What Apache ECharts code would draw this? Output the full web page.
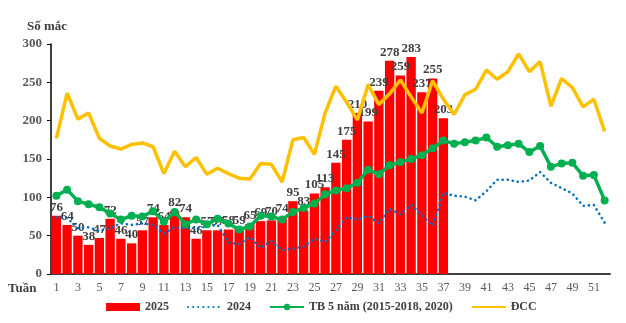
<!DOCTYPE html>
<html><head><meta charset="utf-8">
<script src="https://cdn.jsdelivr.net/npm/echarts@6/dist/echarts.min.js"></script>
<style>html,body{margin:0;padding:0;background:#fff}#c{width:626px;height:323px}</style>
</head><body><div id="c"></div>
<script>
const weeks = Array.from({length:52},(_,i)=>String(i+1));
const cases2025 = [76,64,50,38,47,72,46,40,57,74,64,82,74,46,57,57,58,59,65,69,70,74,95,83,105,113,145,175,210,199,239,278,259,283,237,255,203];
const cases2024 = [74,73,60,61,56,60,66,64,66,64,53,61,60,60,62,64,41,39,48,34,43,31,33,36,46,42,57,74,71,76,66,85,78,90,77,63,106,102,101,96,108,123,123,120,122,133,119,112,105,89,90,67];
const avg5y = [102,110,95,91,87,79,71,76,75,82,68,81,65,71,65,72,66,58,62,76,75,71,81,86,92,104,109,112,119,136,130,142,146,150,155,164,174,170,172,174,178,166,168,170,159,167,140,144,145,128,129,96];
const epidemicThreshold = [177,236,202,210,177,167,163,169,171,166,131,160,140,152,130,138,131,125,124,144,143,120,175,178,156,210,245,224,201,247,221,235,253,231,210,252,228,208,234,241,266,254,264,287,264,277,219,255,243,218,228,186];
const seriesNames = ['2025','2024','TB 5 năm (2015-2018, 2020)','ĐCC'];
const yTicks = {min:0,max:300,interval:50};

const serif = '"Liberation Serif","Times New Roman",serif';
const chart = echarts.init(document.getElementById('c'));
chart.setOption({
  animation:false,
  grid:{left:51,right:16,top:44,bottom:49},
  graphic:[
    {type:'text',left:27,top:20,style:{text:'Số mắc',font:'bold 13px '+serif,fill:'#404040'}},
    {type:'text',left:8,top:282,style:{text:'Tuần',font:'bold 13px '+serif,fill:'#404040'}}
  ],
  legend:{
    left:101,top:296,itemWidth:34,itemHeight:8,itemGap:18,
    textStyle:{fontFamily:serif,fontWeight:'bold',fontSize:12,color:'#404040'},
    data:[
      {name:seriesNames[0],icon:'rect'},
      {name:seriesNames[1],itemStyle:{opacity:0}},
      seriesNames[2],
      {name:seriesNames[3],itemStyle:{opacity:0}}
    ]
  },
  xAxis:{type:'category',data:weeks,
    axisLine:{lineStyle:{color:'#404040',width:2}},
    axisTick:{show:false},
    axisLabel:{interval:1,fontFamily:serif,fontSize:12,color:'#595959',margin:8}
  },
  yAxis:{type:'value',min:yTicks.min,max:yTicks.max,interval:yTicks.interval,
    splitLine:{show:false},
    axisLine:{show:true,lineStyle:{color:'#000',width:1.5}},
    axisTick:{show:true,length:4,lineStyle:{color:'#000'}},
    axisLabel:{fontFamily:serif,fontWeight:'bold',fontSize:13,color:'#595959',margin:9}
  },
  series:[
    {name:seriesNames[0],type:'bar',data:cases2025,barCategoryGap:'13%',
     itemStyle:{color:'#FF0000'},
     label:{show:true,position:'top',distance:2,fontFamily:serif,fontWeight:'bold',fontSize:13,color:'#404040'}},
    {name:seriesNames[1],type:'line',data:cases2024,symbol:'none',z:3,
     itemStyle:{color:'#0070C0'},
     lineStyle:{color:'#0070C0',width:2.6,type:[0.1,5],cap:'round'}},
    {name:seriesNames[2],type:'line',data:avg5y,symbol:'circle',symbolSize:8,showAllSymbol:true,z:4,
     itemStyle:{color:'#00B050'},
     lineStyle:{color:'#00B050',width:3.5}},
    {name:seriesNames[3],type:'line',data:epidemicThreshold,symbol:'none',z:4,
     itemStyle:{color:'#FFC000'},
     lineStyle:{color:'#FFC000',width:3.5}}
  ]
});
</script></body></html>
